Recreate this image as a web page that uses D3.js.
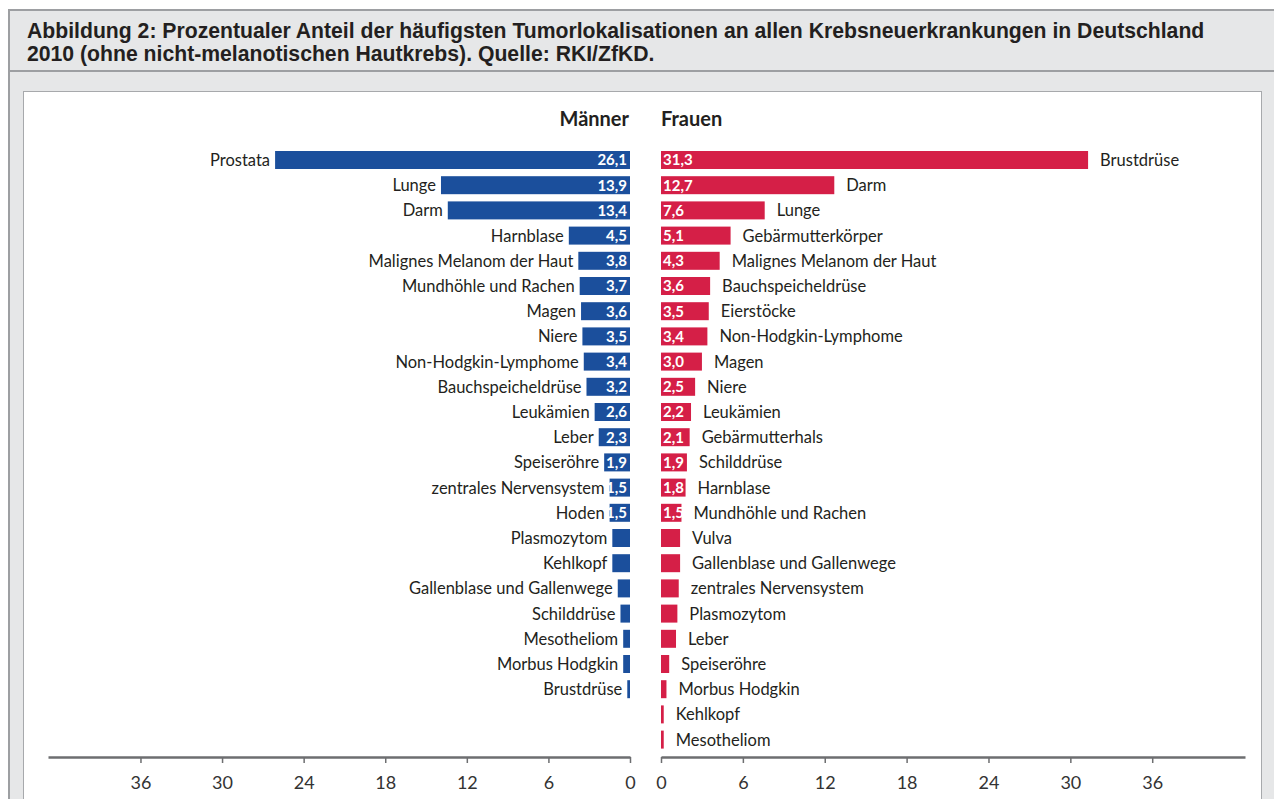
<!DOCTYPE html>
<html lang="de">
  <head>
    <meta charset="utf-8">
    <title>Tumorlokalisationen 2010</title>
    <script src="https://cdnjs.cloudflare.com/ajax/libs/d3/7.8.5/d3.min.js"></script>
    <style>
      body { margin: 0; background: #fff; }
      .title { font-family: "Liberation Sans", Arial, sans-serif; font-weight: bold; font-size: 21.2px; fill: #231f20; }
      .lbl { font-family: Lato, "Open Sans", sans-serif; font-size: 16.5px; fill: #231f20; }
      .val { font-family: Lato, "Open Sans", sans-serif; font-size: 15px; font-weight: bold; fill: #fff; }
      .head { font-family: Lato, "Open Sans", sans-serif; font-size: 20px; font-weight: bold; fill: #231f20; }
      .axis text { font-family: Lato, "Open Sans", sans-serif; font-size: 18px; fill: #333; }
      .axis path, .axis line { stroke: #6d6e70; }
      .axis path { stroke-width: 2.5; }
      .axis line { stroke-width: 1.5; }
    </style>
  </head>
  <body>
    <div id="chartDiv"></div>
    <script>
      // Männer, sorted as in the figure
      var menCategories = ["Prostata", "Lunge", "Darm", "Harnblase", "Malignes Melanom der Haut",
        "Mundhöhle und Rachen", "Magen", "Niere", "Non-Hodgkin-Lymphome", "Bauchspeicheldrüse",
        "Leukämien", "Leber", "Speiseröhre", "zentrales Nervensystem", "Hoden", "Plasmozytom",
        "Kehlkopf", "Gallenblase und Gallenwege", "Schilddrüse", "Mesotheliom", "Morbus Hodgkin",
        "Brustdrüse"];
      var menValues = [26.1, 13.9, 13.4, 4.5, 3.8, 3.7, 3.6, 3.5, 3.4, 3.2, 2.6, 2.3, 1.9, 1.5, 1.5,
        1.3, 1.3, 0.9, 0.7, 0.5, 0.5, 0.2];

      // Frauen
      var womenCategories = ["Brustdrüse", "Darm", "Lunge", "Gebärmutterkörper", "Malignes Melanom der Haut",
        "Bauchspeicheldrüse", "Eierstöcke", "Non-Hodgkin-Lymphome", "Magen", "Niere", "Leukämien",
        "Gebärmutterhals", "Schilddrüse", "Harnblase", "Mundhöhle und Rachen", "Vulva",
        "Gallenblase und Gallenwege", "zentrales Nervensystem", "Plasmozytom", "Leber", "Speiseröhre",
        "Morbus Hodgkin", "Kehlkopf", "Mesotheliom"];
      var womenValues = [31.3, 12.7, 7.6, 5.1, 4.3, 3.6, 3.5, 3.4, 3.0, 2.5, 2.2, 2.1, 1.9, 1.8, 1.5,
        1.4, 1.4, 1.3, 1.2, 1.1, 0.6, 0.4, 0.2, 0.2];

      // only the 15 largest values carry a number label
      var labelledRows = 15;
      var axisTicks = [0, 6, 12, 18, 24, 30, 36];

      var titleLines = [
        "Abbildung 2: Prozentualer Anteil der häufigsten Tumorlokalisationen an allen Krebsneuerkrankungen in Deutschland",
        "2010 (ohne nicht-melanotischen Hautkrebs). Quelle: RKI/ZfKD."
      ];

      var W = 1274, H = 799;
      var blue = "#1b4f9c", red = "#d51f47";
      var menZero = 630, womenZero = 661;
      var fmt = function(v) { return d3.format(".1f")(v).replace(".", ","); };

      var svg = d3.select("#chartDiv").append("svg")
        .attr("width", W).attr("height", H);

      // frame
      svg.append("rect").attr("x", 9).attr("y", 10).attr("width", W).attr("height", H)
        .attr("fill", "#e6e7e8").attr("stroke", "#9d9fa2").attr("stroke-width", 2);
      svg.append("line").attr("x1", 9).attr("x2", W).attr("y1", 71).attr("y2", 71)
        .attr("stroke", "#9d9fa2").attr("stroke-width", 2);
      svg.append("rect").attr("x", 23.5).attr("y", 91.5).attr("width", 1238).attr("height", 720)
        .attr("fill", "#fff").attr("stroke", "#a7a9ac").attr("stroke-width", 1);

      svg.selectAll("text.title").data(titleLines).enter().append("text")
        .attr("class", "title")
        .attr("x", 27)
        .attr("y", function(d, i) { return 38 + i * 23; })
        .text(function(d) { return d; });

      var xMen = d3.scaleLinear().domain([0, 42.8]).range([menZero, menZero - 582]);
      var xWomen = d3.scaleLinear().domain([0, 42.8]).range([womenZero, womenZero + 584]);

      var yScale = d3.scaleBand()
        .domain(d3.range(womenCategories.length))
        .range([147.4, 147.4 + womenCategories.length * 25.2])
        .paddingInner(0.286)
        .paddingOuter(0.143);

      var menData = menCategories.map(function(c, i) { return {name: c, value: menValues[i], i: i}; });
      var womenData = womenCategories.map(function(c, i) { return {name: c, value: womenValues[i], i: i}; });

      // headers
      svg.append("text").attr("class", "head").attr("x", menZero - 1).attr("y", 126)
        .attr("text-anchor", "end").text("Männer");
      svg.append("text").attr("class", "head").attr("x", womenZero).attr("y", 126)
        .text("Frauen");

      // men bars
      var gm = svg.append("g");
      gm.selectAll("rect").data(menData).enter().append("rect")
        .attr("x", function(d) { return xMen(d.value); })
        .attr("y", function(d) { return yScale(d.i); })
        .attr("width", function(d) { return menZero - xMen(d.value); })
        .attr("height", yScale.bandwidth())
        .attr("fill", blue);
      gm.selectAll("text.lbl").data(menData).enter().append("text")
        .attr("class", "lbl")
        .attr("x", function(d) { return xMen(d.value) - 5; })
        .attr("y", function(d) { return yScale(d.i) + yScale.bandwidth() / 2; })
        .attr("dy", "0.36em")
        .attr("text-anchor", "end")
        .text(function(d) { return d.name; });
      gm.selectAll("text.val").data(menData.slice(0, labelledRows)).enter().append("text")
        .attr("class", "val")
        .attr("x", menZero - 3)
        .attr("y", function(d) { return yScale(d.i) + yScale.bandwidth() / 2; })
        .attr("dy", "0.36em")
        .attr("text-anchor", "end")
        .text(function(d) { return fmt(d.value); });

      // women bars
      var gw = svg.append("g");
      gw.selectAll("rect").data(womenData).enter().append("rect")
        .attr("x", womenZero)
        .attr("y", function(d) { return yScale(d.i); })
        .attr("width", function(d) { return xWomen(d.value) - womenZero; })
        .attr("height", yScale.bandwidth())
        .attr("fill", red);
      gw.selectAll("text.lbl").data(womenData).enter().append("text")
        .attr("class", "lbl")
        .attr("x", function(d) { return xWomen(d.value) + 12; })
        .attr("y", function(d) { return yScale(d.i) + yScale.bandwidth() / 2; })
        .attr("dy", "0.36em")
        .text(function(d) { return d.name; });
      gw.selectAll("text.val").data(womenData.slice(0, labelledRows)).enter().append("text")
        .attr("class", "val")
        .attr("x", womenZero + 2)
        .attr("y", function(d) { return yScale(d.i) + yScale.bandwidth() / 2; })
        .attr("dy", "0.36em")
        .text(function(d) { return fmt(d.value); });

      // axes
      var axisY = 757;
      svg.append("g").attr("class", "axis")
        .attr("transform", "translate(0," + axisY + ")")
        .call(d3.axisBottom(xMen).tickValues(axisTicks).tickSize(6).tickSizeOuter(0).tickPadding(13));
      svg.append("g").attr("class", "axis")
        .attr("transform", "translate(0," + axisY + ")")
        .call(d3.axisBottom(xWomen).tickValues(axisTicks).tickSize(6).tickSizeOuter(0).tickPadding(13));
      svg.selectAll(".axis .tick text").attr("font-family", null).attr("font-size", null);
    </script>
  </body>
</html>
